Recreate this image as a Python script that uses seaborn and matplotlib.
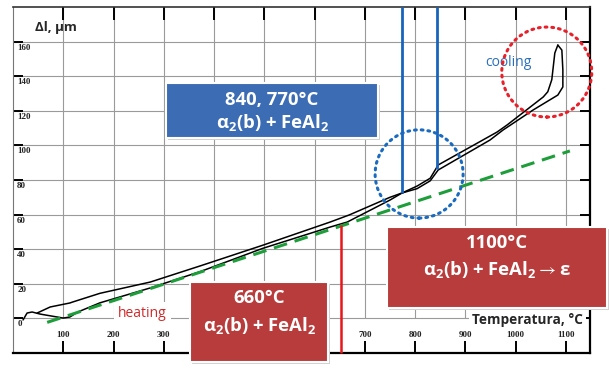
import matplotlib
matplotlib.use("Agg")
import matplotlib.pyplot as plt
from matplotlib.patches import Ellipse, Rectangle
import pandas as pd
import seaborn as sns

# dilatometer curve (temperature in C, elongation in um)
heat_T = [20, 28, 38, 54, 100, 113, 129, 173, 273, 372, 497, 631, 665, 750, 774,
          804, 830, 846, 963, 983, 1055, 1064, 1072, 1078, 1084]
heat_dl = [-0.9, 3.1, 3.7, 2.5, 0.2, 0.8, 3.7, 9.0, 17.6, 27.0, 40.5, 52.8, 55.7, 68.4, 72.5,
           76.5, 81.0, 88.7, 107.7, 111.8, 128.0, 131.0, 138.0, 153.4, 158.0]
cool_T = [1084, 1092, 1094, 1094, 1084, 1035, 975, 949, 846, 830, 804, 774, 750,
          669, 631, 497, 372, 273, 173, 119, 113, 74, 48]
cool_dl = [158.0, 155.1, 143.6, 133.8, 129.1, 120.5, 108.9, 103.1, 85.8, 79.5, 75.0, 72.5, 70.0,
           59.8, 55.7, 42.3, 30.3, 21.0, 14.5, 9.5, 8.9, 6.6, 3.1]

# straight reference line
tangent_T = [68, 1108]
tangent_dl = [-2.3, 96.8]

# transformation markers
onset_T = [774, 844]
onset_dl = [72.5, 86.5]
red_T = [653]
red_dl = [54]

x_ticks = [100, 200, 300, 400, 500, 600, 700, 800, 900, 1000, 1100]
y_ticks = [0, 20, 40, 60, 80, 100, 120, 140, 160]

box_blue = ["840, 770°C", r"$\alpha_2$(b) + FeAl$_2$"]
box_red1 = ["660°C", r"$\alpha_2$(b) + FeAl$_2$"]
box_red2 = ["1100°C", r"$\alpha_2$(b) + FeAl$_2 \rightarrow \varepsilon$"]

sns.set_theme(style="white")
plt.rcParams["font.family"] = ["Open Sans", "DejaVu Sans"]
plt.rcParams["mathtext.fontset"] = "custom"
plt.rcParams["mathtext.rm"] = "Open Sans:bold"
plt.rcParams["mathtext.it"] = "Open Sans:bold"
plt.rcParams["mathtext.bf"] = "Open Sans:bold"
plt.rcParams["mathtext.default"] = "rm"
plt.rcParams["mathtext.fallback"] = "stixsans"

W, H = 609, 369
fig = plt.figure(figsize=(W / 100, H / 100), dpi=100)
ax = fig.add_axes([13 / W, 1 - 353 / H, 577 / W, 346 / H])
ax.set_xlim(0, 1148)
ax.set_ylim(-20, 180)

# grid
ax.hlines(y_ticks, 0, 1148, color="#9a9a9a", lw=0.8, zorder=0)
ax.vlines(x_ticks, 0, 180, color="#9a9a9a", lw=0.8, zorder=0)

df = pd.concat([
    pd.DataFrame({"T": heat_T, "dl": heat_dl, "branch": "heating"}),
    pd.DataFrame({"T": cool_T, "dl": cool_dl, "branch": "cooling"}),
])
sns.lineplot(data=df, x="T", y="dl", hue="branch", palette=["black", "black"],
             sort=False, estimator=None, legend=False, lw=1.1, ax=ax, zorder=3)
sns.lineplot(x=tangent_T, y=tangent_dl, color="#1e9e3a", lw=2.2,
             linestyle=(0, (4.5, 2.6)), ax=ax, zorder=4)

ax.vlines(onset_T, onset_dl, 180, color="#1763bd", lw=2.0, zorder=5)
ax.vlines(red_T, -20, red_dl, color="#e8161b", lw=1.8, zorder=5, clip_on=False)

ax.add_patch(Ellipse((808, 83.5), 175, 51, fill=False, ec="#1a6bbf", lw=2.2,
                     ls=(0, (0.6, 1.6)), capstyle="round", zorder=6))
ax.add_patch(Ellipse((1062, 142.4), 179, 52, fill=False, ec="#e8202a", lw=2.2,
                     ls=(0, (0.6, 1.6)), capstyle="round", zorder=6, clip_on=False))

ax.text(985, 148, "cooling", color="#2a6ebb", fontsize=10, ha="center", va="center")
ax.text(258, 3, "heating", color="#cf2a2a", fontsize=10, ha="center", va="center",
        bbox=dict(fc="white", ec="none", pad=3), zorder=7)

# ticks and tick labels drawn inside the frame
ax.set_xticks(x_ticks)
ax.set_yticks(y_ticks)
ax.tick_params(labelbottom=False, labelleft=False)
ax.tick_params(axis="x", direction="in", length=9, width=1.4, color="black",
               top=True, bottom=True)
ax.tick_params(axis="y", direction="in", length=7, width=1.4, color="black",
               left=True, right=True)
for v in x_ticks:
    ax.annotate(str(v), xy=(v, 0), xycoords=("data", "axes fraction"),
                xytext=(0, 13), textcoords="offset points", ha="center", va="center",
                fontsize=6.5, family="Liberation Serif", fontweight="bold", color="#222222")
for v in y_ticks:
    ax.annotate(str(v), xy=(0, v), xycoords=("axes fraction", "data"),
                xytext=(3, -1.5), textcoords="offset points", ha="left", va="top",
                fontsize=6.5, family="Liberation Serif", fontweight="bold", color="#222222")

for side in ["bottom", "right"]:
    ax.spines[side].set_color("black")
    ax.spines[side].set_linewidth(1.6)
ax.spines["top"].set_color("#333333")
ax.spines["top"].set_linewidth(1.2)
ax.spines["left"].set_color("#777777")
ax.spines["left"].set_linewidth(0.8)
ax.set_xlabel("")
ax.set_ylabel("")

fig.text(35 / W, 1 - 28 / H, "Δl, μm", fontsize=9.5, fontweight="bold", ha="left", va="center")
fig.text(583 / W, 1 - 320 / H, "Temperatura, °C", fontsize=9.8, fontweight="bold",
         ha="right", va="center", bbox=dict(fc="white", ec="none", pad=2), zorder=2)


def label_box(x0, y0, x1, y1, color, lines, y_lines):
    fig.patches.append(Rectangle((x0 / W + 2 / W, 1 - y1 / H - 2 / H), (x1 - x0) / W, (y1 - y0) / H,
                                 transform=fig.transFigure, fc="#d0d0d0", ec="none", zorder=1))
    fig.patches.append(Rectangle((x0 / W, 1 - y1 / H), (x1 - x0) / W, (y1 - y0) / H,
                                 transform=fig.transFigure, fc=color, ec="white", lw=1.5, zorder=1))
    for text, yy in zip(lines, y_lines):
        fig.text((x0 + x1) / 2 / W, 1 - yy / H, text, color="white", fontsize=13.3,
                 fontweight="bold", ha="center", va="center", zorder=3)


label_box(166, 83, 378, 138, "#3b6cb4", box_blue, [100, 123])
label_box(190, 282, 328, 362, "#b83c3b", box_red1, [298, 326])
label_box(387, 227, 607, 308, "#b83c3b", box_red2, [243, 270])

fig.savefig("out.png", dpi=100)
